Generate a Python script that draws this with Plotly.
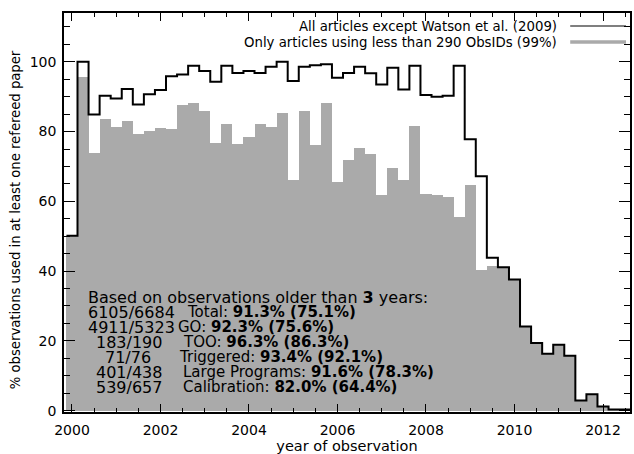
import plotly.graph_objects as go

# bin centres (quarter years)
years = [2000 + 0.25 * i for i in range(51)]

all_articles = [50.1, 100.0, 84.9, 90.3, 89.5, 92.2, 87.8, 90.7, 91.9, 95.9,
                96.4, 98.9, 97.4, 94.3, 98.9, 96.8, 97.4, 96.8, 98.6, 100.0,
                94.5, 98.6, 99.0, 99.3, 95.4, 96.8, 98.6, 96.7, 93.5, 98.3,
                92.1, 98.9, 90.5, 90.0, 90.3, 98.9, 77.8, 67.2, 43.8, 41.1,
                37.6, 24.1, 19.4, 16.3, 18.9, 15.7, 2.9, 4.7, 1.15, 0.3, 0.3]

small_articles = [50.1, 95.7, 73.8, 83.6, 81.3, 83.0, 79.3, 80.1, 81.0, 80.7,
                  87.6, 88.2, 85.9, 76.7, 82.1, 76.4, 78.4, 82.1, 81.3, 85.3,
                  66.1, 85.9, 76.1, 88.2, 65.5, 71.9, 75.3, 73.6, 61.7, 69.6,
                  66.1, 81.6, 62.0, 61.7, 61.2, 55.6, 64.7, 40.3, 41.4, 41.1,
                  37.6, 24.1, 19.4, 16.3, 18.9, 15.7, 2.9, 4.7, 1.15, 0.3, 0.3]

bin_width = 0.25
legend_labels = ["All articles except Watson et al. (2009)",
                 "Only articles using less than 290 ObsIDs (99%)"]

fractions = ["6105/6684", "4911/5323", "183/190", "71/76", "401/438", "539/657"]
categories = ["Total:", "GO:", "TOO:", "Triggered:", "Large Programs:", "Calibration:"]
percents = ["91.3% (75.1%)", "92.3% (75.6%)", "96.3% (86.3%)",
            "93.4% (92.1%)", "91.6% (78.3%)", "82.0% (64.4%)"]

FONT = "DejaVu Sans"
W, H = 634, 454
ML, MR, MT, MB = 64, 2, 13, 42
PW, PH = W - ML - MR, H - MT - MB

def px(xp):
    return (xp - ML) / PW

def py(yp):
    return (H - MB - yp) / PH

edges = [y - bin_width / 2 for y in years] + [years[-1] + bin_width / 2]
step_y = all_articles + [all_articles[-1]]

fig = go.Figure()
fig.add_trace(go.Bar(x=years, y=small_articles, width=bin_width,
                     marker=dict(color="#aaaaaa", line=dict(width=0)),
                     showlegend=False))
fig.add_trace(go.Scatter(x=edges, y=step_y, mode="lines", line_shape="hv",
                         line=dict(color="black", width=2), showlegend=False))

axis_common = dict(showline=True, linecolor="black", linewidth=1.6,
                   mirror="allticks", ticks="inside", tickcolor="black",
                   tickwidth=1.2, showgrid=False, zeroline=False,
                   layer="above traces",
                   tickfont=dict(family=FONT, size=14, color="black"))

fig.update_layout(
    width=W, height=H,
    margin=dict(l=ML, r=MR, t=MT, b=MB),
    plot_bgcolor="white", paper_bgcolor="white",
    bargap=0,
    xaxis=dict(range=[1999.82, 2012.61], tick0=2000, dtick=2, ticklen=8,
               minor=dict(dtick=0.5, tick0=2000, ticks="inside", ticklen=4,
                          tickcolor="black", tickwidth=1.2),
               ticklabelstandoff=4,
               title=dict(text="year of observation",
                          font=dict(family=FONT, size=14.5, color="black"),
                          standoff=4),
               **axis_common),
    yaxis=dict(range=[-0.4, 114], tick0=0, dtick=20, ticklen=11,
               minor=dict(dtick=5, tick0=0, ticks="inside", ticklen=6,
                          tickcolor="black", tickwidth=1.2),
               ticklabelstandoff=3,
               **axis_common),
)

# y-axis title as rotated annotation (centred like the reference)
fig.add_annotation(xref="paper", yref="paper", x=px(15), y=py(220),
                   xanchor="center", yanchor="middle", showarrow=False,
                   textangle=-90,
                   text="% observations used in at least one refereed paper",
                   font=dict(family=FONT, size=13.2, color="black"))

# legend (text left, line sample right)
leg_y = [26, 42]
for lbl, yy in zip(legend_labels, leg_y):
    fig.add_annotation(xref="paper", yref="paper", x=px(561), y=py(yy),
                       xanchor="right", yanchor="middle", showarrow=False,
                       text=lbl, font=dict(family=FONT, size=13.3, color="black"))
fig.add_shape(type="line", xref="paper", yref="paper",
              x0=px(572), x1=px(628), y0=py(26), y1=py(26),
              line=dict(color="black", width=1.2))
fig.add_shape(type="line", xref="paper", yref="paper",
              x0=px(572), x1=px(628), y0=py(42), y1=py(42),
              line=dict(color="#aaaaaa", width=3.5))

# annotation block
TF = dict(family=FONT, size=16, color="black")
TF2 = dict(family=FONT, size=15, color="black")
fig.add_annotation(xref="paper", yref="paper", x=px(86), y=py(297),
                   xanchor="left", yanchor="middle", showarrow=False,
                   text="Based on observations older than <b>3</b> years:", font=TF)
frac_x = [86, 86, 94, 103, 94, 94]
cat_x = [185, 176, 181, 177, 181, 181]
line_y = [312, 327, 342, 357, 372, 387]
for f, c, p, fx, cx, ly in zip(fractions, categories, percents, frac_x, cat_x, line_y):
    fig.add_annotation(xref="paper", yref="paper", x=px(fx), y=py(ly),
                       xanchor="left", yanchor="middle", showarrow=False,
                       text=f, font=TF)
    fig.add_annotation(xref="paper", yref="paper", x=px(cx), y=py(ly),
                       xanchor="left", yanchor="middle", showarrow=False,
                       text=c + " <b>" + p + "</b>", font=TF2)

fig.write_html("out.html",
               config={"displayModeBar": False},
               post_script="document.body.style.margin='0';"
                           "document.body.style.padding='0';"
                           "document.body.style.overflow='hidden';")
